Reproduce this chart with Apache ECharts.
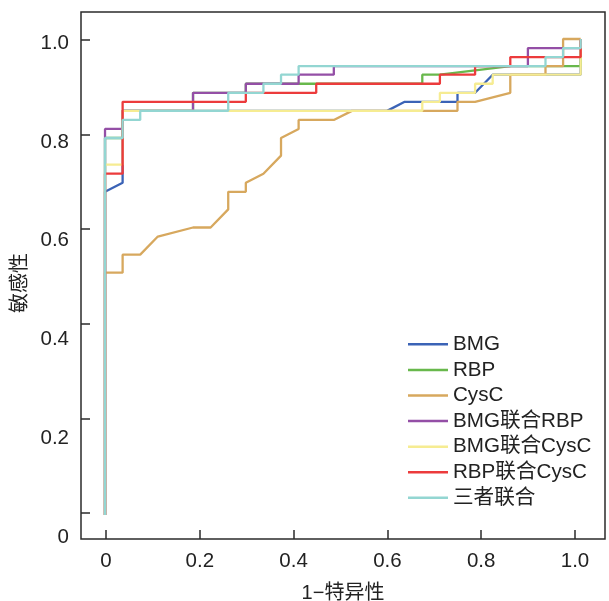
<!DOCTYPE html>
<html>
<head>
<meta charset="utf-8">
<script src="https://cdn.jsdelivr.net/npm/echarts@6/dist/echarts.min.js"></script>
<style>html,body{margin:0;padding:0;background:#fff}#c{width:609px;height:601px}</style>
</head>
<body>
<div id="c"></div>
<script>
// ROC curve data: 1-specificity (x) and sensitivity (y)
const seriesNames = ['BMG', 'RBP', 'CysC', 'BMG联合RBP', 'BMG联合CysC', 'RBP联合CysC', '三者联合'];
const colors = ['#3b63b6', '#68b84c', '#d7a85e', '#944fa6', '#f6ec92', '#ec3b3c', '#93d6d2'];

const bmgX = [0, 0, 0.037, 0.037, 0.593, 0.630, 0.741, 0.741, 0.778, 0.815, 1, 1];
const bmgY = [0, 0.679, 0.698, 0.849, 0.849, 0.868, 0.868, 0.887, 0.887, 0.925, 0.925, 1];

const rbpX = [0, 0, 0.037, 0.037, 0.185, 0.185, 0.296, 0.296, 0.667, 0.667, 0.704, 0.852, 1, 1];
const rbpY = [0, 0.792, 0.792, 0.849, 0.849, 0.887, 0.887, 0.906, 0.906, 0.925, 0.925, 0.943, 0.943, 1];

const cyscX = [0, 0, 0.037, 0.037, 0.074, 0.111, 0.185, 0.222, 0.259, 0.259, 0.296, 0.296, 0.333, 0.370, 0.370, 0.407, 0.407, 0.481, 0.519, 0.741, 0.741, 0.778, 0.852, 0.852, 0.926, 0.926, 0.963, 0.963, 1];
const cyscY = [0, 0.509, 0.509, 0.547, 0.547, 0.585, 0.604, 0.604, 0.642, 0.679, 0.679, 0.698, 0.717, 0.755, 0.792, 0.811, 0.830, 0.830, 0.849, 0.849, 0.868, 0.868, 0.887, 0.925, 0.925, 0.943, 0.943, 1, 1];

const bmgRbpX = [0, 0, 0.037, 0.037, 0.185, 0.185, 0.296, 0.296, 0.407, 0.407, 0.481, 0.481, 0.889, 0.889, 1, 1];
const bmgRbpY = [0, 0.811, 0.811, 0.849, 0.849, 0.887, 0.887, 0.906, 0.906, 0.925, 0.925, 0.943, 0.943, 0.981, 0.981, 1];

const bmgCyscX = [0, 0, 0.037, 0.037, 0.667, 0.667, 0.704, 0.704, 0.778, 0.778, 0.815, 0.815, 1, 1];
const bmgCyscY = [0, 0.736, 0.736, 0.849, 0.849, 0.868, 0.868, 0.887, 0.887, 0.906, 0.906, 0.925, 0.925, 1];

const rbpCyscX = [0, 0, 0.037, 0.037, 0.296, 0.296, 0.444, 0.444, 0.704, 0.704, 0.778, 0.778, 0.852, 0.852, 1, 1];
const rbpCyscY = [0, 0.717, 0.717, 0.868, 0.868, 0.887, 0.887, 0.906, 0.906, 0.925, 0.925, 0.943, 0.943, 0.962, 0.962, 1];

const allX = [0, 0, 0.037, 0.037, 0.074, 0.074, 0.259, 0.259, 0.333, 0.333, 0.370, 0.370, 0.407, 0.407, 0.926, 0.926, 0.963, 0.963, 1, 1];
const allY = [0, 0.792, 0.792, 0.830, 0.830, 0.849, 0.849, 0.887, 0.887, 0.906, 0.906, 0.925, 0.925, 0.943, 0.943, 0.962, 0.962, 0.981, 0.981, 1];

const tickValues = [0, 0.2, 0.4, 0.6, 0.8, 1.0];

const xs = [bmgX, rbpX, cyscX, bmgRbpX, bmgCyscX, rbpCyscX, allX];
const ys = [bmgY, rbpY, cyscY, bmgRbpY, bmgCyscY, rbpCyscY, allY];

const FONT = "'Liberation Sans', 'Noto Sans CJK SC', sans-serif";
const fmt = v => (Math.abs(v) < 1e-9 ? '0' : v.toFixed(1));
const tickStyle = { show: true, inside: true, length: 9, customValues: tickValues, lineStyle: { color: '#2b2b2b', width: 1.5 } };

const chart = echarts.init(document.getElementById('c'), null, { renderer: 'canvas' });
chart.setOption({
  animation: false,
  backgroundColor: '#fff',
  textStyle: { fontFamily: FONT },
  grid: { left: 81, right: 4, top: 12, bottom: 62, outerBoundsMode: 'none', containLabel: false, show: true, borderColor: '#2b2b2b', borderWidth: 1.5, backgroundColor: 'transparent' },
  legend: {
    orient: 'vertical', left: 403, top: 329,
    icon: 'rect', itemWidth: 40, itemHeight: 2.5, itemGap: 5,
    textStyle: { fontSize: 20.6, color: '#222', fontFamily: FONT, lineHeight: 20 },
    data: seriesNames
  },
  xAxis: [
    { type: 'value', min: -0.0505, max: 1.0511, show: false, axisLine: { onZero: false } },
    {
      type: 'value', min: -0.0533, max: 1.064, position: 'bottom',
      axisLine: { show: false, onZero: false }, splitLine: { show: false },
      axisTick: tickStyle,
      axisLabel: { customValues: tickValues, formatter: fmt, fontSize: 20.5, color: '#222', margin: 12, fontFamily: FONT },
      name: '1−特异性', nameLocation: 'middle', nameGap: 44,
      nameTextStyle: { fontSize: 20, color: '#222', fontFamily: FONT }
    }
  ],
  yAxis: [
    { type: 'value', min: -0.0504, max: 1.0567, show: false, axisLine: { onZero: false } },
    {
      type: 'value', min: -0.055, max: 1.059, position: 'left',
      axisLine: { show: false, onZero: false }, splitLine: { show: false },
      axisTick: tickStyle,
      axisLabel: { show: false }
    },
    {
      type: 'value', min: -0.004, max: 1.063, position: 'left',
      axisLine: { show: false, onZero: false }, splitLine: { show: false }, axisTick: { show: false },
      axisLabel: { customValues: tickValues, formatter: fmt, fontSize: 20.5, color: '#222', margin: 12, fontFamily: FONT }
    }
  ],
  graphic: [{
    type: 'text', x: 18, y: 283, rotation: Math.PI / 2,
    style: { text: '敏感性', font: "20px 'Noto Sans CJK SC', sans-serif", fill: '#222', textAlign: 'center', textVerticalAlign: 'middle' }
  }],
  series: seriesNames.map((n, i) => ({
    name: n, type: 'line', xAxisIndex: 0, yAxisIndex: 0,
    symbol: 'none', showSymbol: false, smooth: false,
    color: colors[i],
    itemStyle: { color: colors[i] },
    lineStyle: { color: colors[i], width: 2.3 },
    data: xs[i].map((x, k) => [x, ys[i][k]])
  }))
});
</script>
</body>
</html>
